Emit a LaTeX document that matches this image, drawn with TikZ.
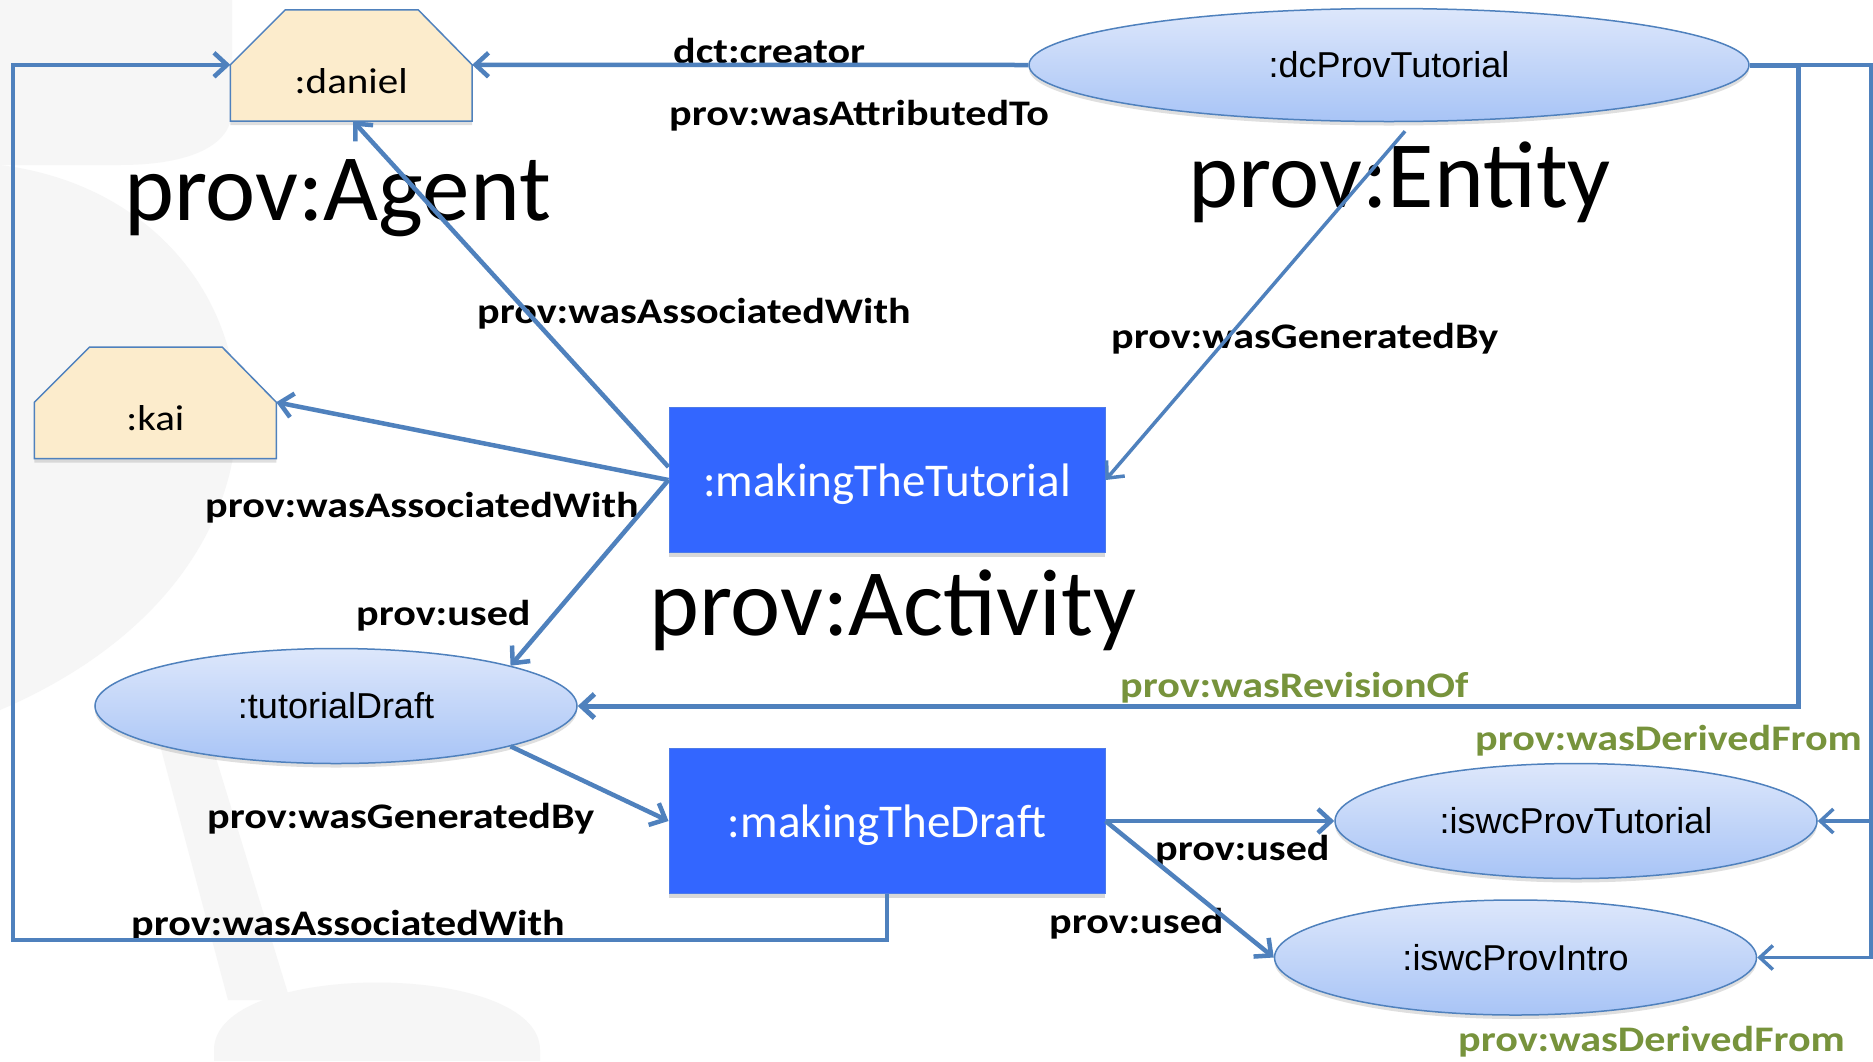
\documentclass[tikz,border=0pt]{standalone}
\usepackage{fontspec}
\setmainfont{Carlito}
\newfontfamily\lblfont[FakeStretch=1.17]{Carlito}
\newfontfamily\agentfont[FakeStretch=1.14]{Carlito}
\newfontfamily\entfont{Liberation Sans}
\usetikzlibrary{arrows.meta,shapes.geometric,shadows}

\definecolor{lineblue}{HTML}{4F81BD}
\definecolor{actblue}{HTML}{3366FF}
\definecolor{actedge}{HTML}{4D7BE8}
\definecolor{agentfill}{HTML}{FCECCC}
\definecolor{labelgreen}{HTML}{77933C}
\definecolor{enttop}{HTML}{DDE7FB}
\definecolor{entbot}{HTML}{A8C4F6}
\definecolor{watermark}{HTML}{F6F6F6}

\tikzset{
  conn/.style={draw=lineblue, line width=4.5pt, line join=miter,
    -{Straight Barb[length=13pt,width=24pt]}},
  thinconn/.style={conn, line width=3.5pt},
  lbl/.style={anchor=base west, inner sep=0pt,
    font=\lblfont\bfseries\fontsize{36}{40}\selectfont},
  greenlbl/.style={lbl, text=labelgreen},
  classlbl/.style={anchor=base west, inner sep=0pt,
    font=\fontsize{95}{100}\selectfont},
  activity/.style={rectangle, fill=actblue, draw=actedge, line width=1pt,
    minimum width=436pt, minimum height=145pt, inner sep=0pt,
    text=white, font=\fontsize{47}{50}\selectfont,
    text height=32pt, text depth=0pt,
    drop shadow={shadow xshift=0pt, shadow yshift=-4pt, opacity=0.3}},
  entity/.style={ellipse, draw=lineblue, line width=1.5pt,
    top color=enttop, bottom color=entbot,
    minimum width=482pt, minimum height=115pt, inner sep=0pt,
    font=\entfont\fontsize{36}{40}\selectfont,
    drop shadow={shadow xshift=0pt, shadow yshift=-4pt, opacity=0.25}},
  agentarea/.style={rectangle, minimum width=241.5pt, minimum height=111pt,
    inner sep=0pt},
  agentbody/.style={draw=lineblue, line width=1.5pt, fill=agentfill,
    drop shadow={shadow xshift=0pt, shadow yshift=-4pt, opacity=0.25}},
  agenttext/.style={anchor=base, inner sep=0pt,
    font=\agentfont\fontsize{36}{40}\selectfont},
}

\begin{document}
\begin{tikzpicture}[x=1pt, y=-1pt]
\useasboundingbox (0,0) rectangle (1873,1061);
\fill[white] (0,0) rectangle (1873,1061);

% faint background emblem
\fill[watermark] (0,0) -- (232,0) -- (232,110)
  .. controls (232,150) and (180,165) .. (120,165) -- (0,165) -- cycle;
\fill[watermark] (0,165) .. controls (280,200) and (350,560) .. (0,710) -- cycle;
\fill[watermark] (160,745) -- (212,745) -- (290,1000) -- (228,1000) -- cycle;
\fill[watermark] (214,1061) -- (214,1050)
  .. controls (214,960) and (540,960) .. (540,1050) -- (540,1061) -- cycle;

% class names
\node[classlbl] (agentcls) at (124,220) {prov:Agent};
\node[classlbl] (entitycls) at (1188,207) {prov:Entity};
\node[classlbl] (activitycls) at (649,635) {prov:Activity};

% relation labels
\node[lbl] (lcreator) at (673,63) {dct:creator};
\node[lbl] (lattr) at (669,125) {prov:wasAttributedTo};
\node[lbl] (lassocA) at (477,323) {prov:wasAssociatedWith};
\node[lbl] (lgenA) at (1111,348) {prov:wasGeneratedBy};
\node[lbl] (lassocB) at (205,517) {prov:wasAssociatedWith};
\node[lbl] (lusedA) at (356,625) {prov:used};
\node[greenlbl] (lrev) at (1120,697) {prov:wasRevisionOf};
\node[greenlbl] (lderA) at (1475,750) {prov:wasDerivedFrom};
\node[lbl] (lgenB) at (207,828) {prov:wasGeneratedBy};
\node[lbl] (lusedB) at (1155,860) {prov:used};
\node[lbl] (lusedC) at (1049,933) {prov:used};
\node[lbl] (lassocC) at (131,935) {prov:wasAssociatedWith};
\node[greenlbl] (lderB) at (1458,1051) {prov:wasDerivedFrom};

% agents
\node[agentarea] (daniel) at (351.25,65.5) {};
\node[agentarea] (kai) at (155.35,402.9) {};
\foreach \a in {daniel,kai}{
  \draw[agentbody] (\a.south west) -- ([yshift=-55pt]\a.north west)
    -- ([xshift=55pt]\a.north west) -- ([xshift=-54pt]\a.north east)
    -- ([yshift=-55pt]\a.north east) -- (\a.south east) -- cycle;
}
\node[agenttext] (danieltxt) at ([yshift=-27.5pt]daniel.center) {:daniel};
\node[agenttext] (kaitxt) at ([yshift=-27.5pt]kai.center) {:kai};
\coordinate (danielL) at ([yshift=-55pt]daniel.north west);
\coordinate (danielR) at ([yshift=-55pt]daniel.north east);
\coordinate (kaiR) at ([yshift=-55pt]kai.north east);

% entities and activities
\node[entity, minimum width=720pt, minimum height=113pt] (dc) at (1389,65) {:dcProvTutorial};
\node[entity] (td) at (336,706) {:tutorialDraft};
\node[entity] (ipt) at (1576,821) {:iswcProvTutorial};
\node[entity] (ipi) at (1515.5,957.5) {:iswcProvIntro};
\node[activity] (mtt) at (887,480) {:makingTheTutorial};
\node[activity] (mtd) at (887,821) {:makingTheDraft};

% routing points of the elbow connectors
\coordinate (revcol) at (1798,706);
\coordinate (dercol) at (1871,65);
\coordinate (assocfoot) at (13,940);

% connectors
\draw[conn] (dc.west) -- (danielR);
\draw[conn] ([yshift=13pt]mtt.west) -- ([xshift=2pt]daniel.south);
\draw[conn] (mtt.west) -- (kaiR);
\draw[conn] (mtt.west) -- (td.13);
\draw[thinconn] ([xshift=16pt,yshift=-9pt]dc.south) -- (mtt.east);
\draw[conn] (td.-13) -- (mtd.west);
\draw[conn] (mtd.east) -- (ipt.west);
\draw[conn] (mtd.east) -- (ipi.west);
\draw[conn] (mtd.south) |- (assocfoot) |- (danielL);
\draw[conn, line width=5pt] (dc.east) -| (revcol) -- (td.east);
\draw[thinconn] (dc.east) -- (dercol) |- (ipt.east);
\draw[thinconn] (dercol |- ipt.east) |- (ipi.east);
\end{tikzpicture}
\end{document}
